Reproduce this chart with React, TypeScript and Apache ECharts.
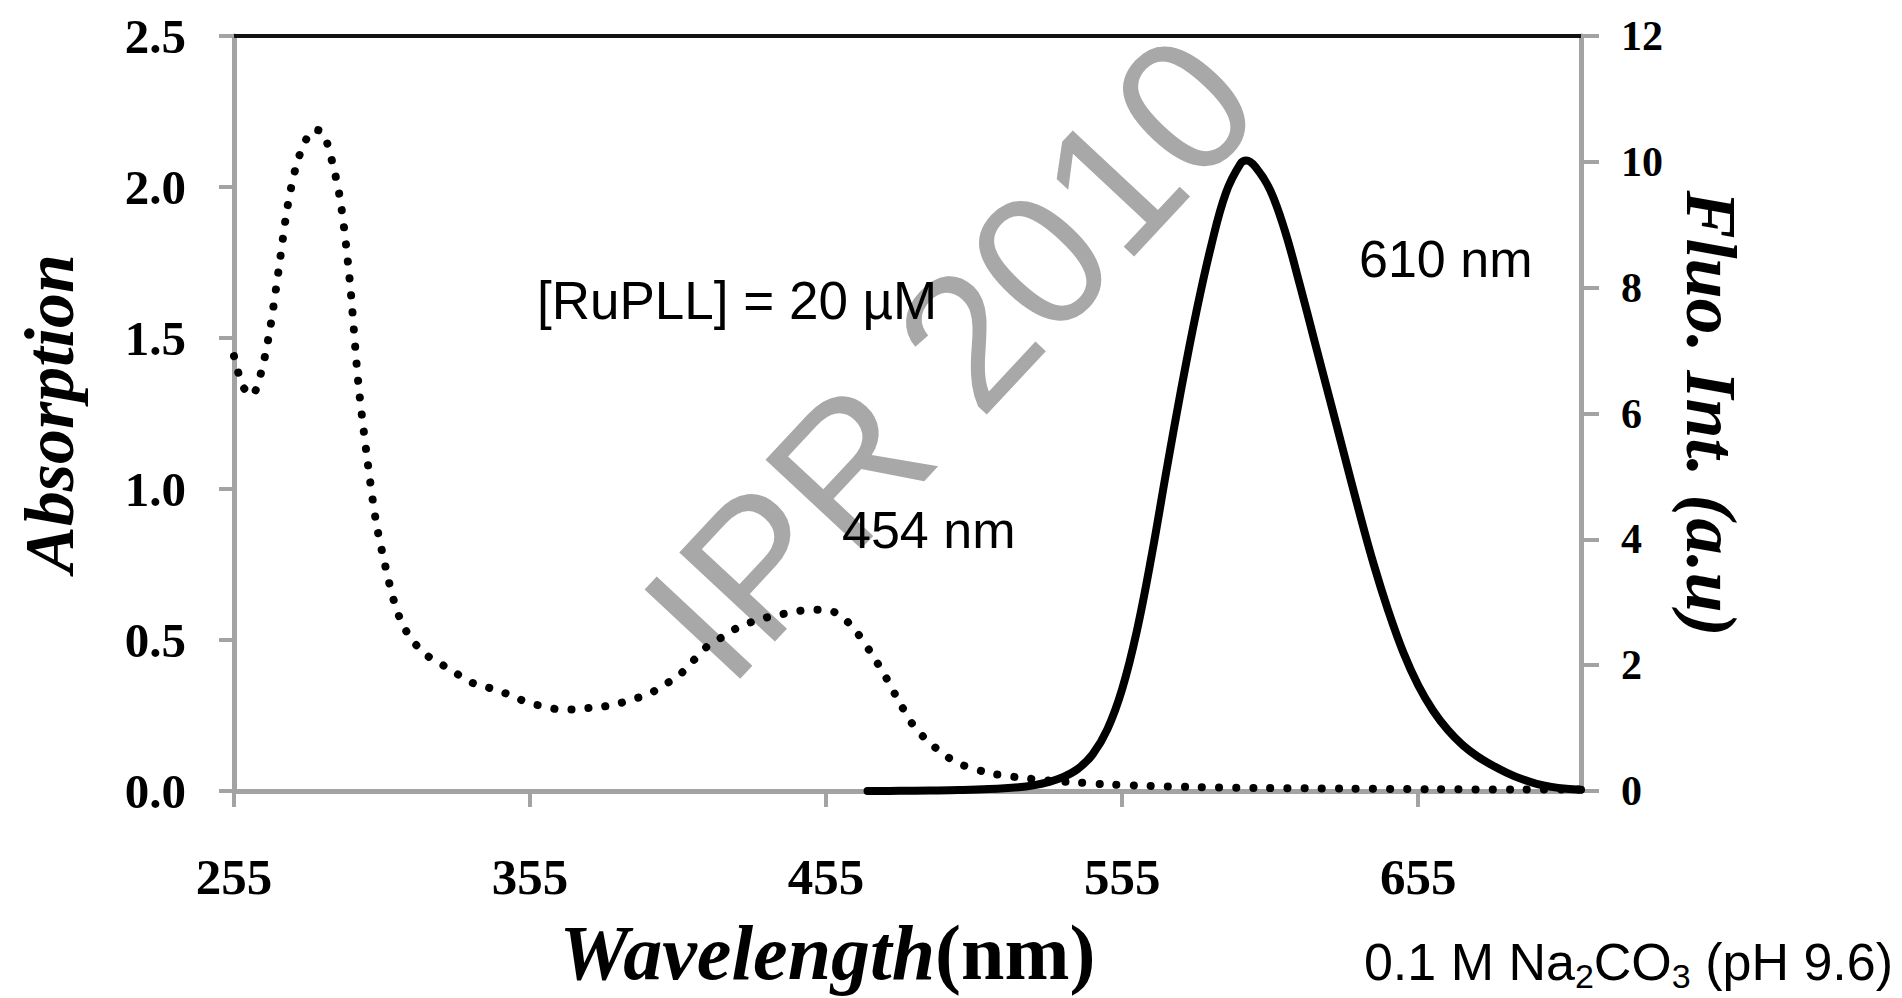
import React, { useEffect, useRef } from 'react';
import * as echarts from 'echarts';

// Absorption spectrum (left axis, dotted)
const absWavelength = [
  255, 258, 261, 264, 267, 270, 273, 276, 279, 282,
  285, 288, 291, 294, 297, 300, 303, 306, 309, 312,
  316, 320, 325, 330, 335, 340, 345, 350, 355, 360,
  365, 370, 375, 380, 385, 390, 395, 400, 405, 410,
  415, 420, 425, 430, 435, 440, 445, 450, 455, 460,
  465, 470, 475, 480, 485, 490, 495, 500, 510, 520,
  530, 540, 550, 560, 580, 600, 630, 660, 690, 710,
];
const absValues = [
  1.44, 1.34, 1.31, 1.38, 1.52, 1.72, 1.93, 2.07, 2.15, 2.19,
  2.18, 2.09, 1.95, 1.7, 1.35, 1.1, 0.89, 0.75, 0.63, 0.55,
  0.49, 0.45, 0.42, 0.39, 0.36, 0.345, 0.33, 0.31, 0.29, 0.28,
  0.27, 0.27, 0.275, 0.28, 0.29, 0.305, 0.32, 0.35, 0.38, 0.43,
  0.48, 0.51, 0.54, 0.56, 0.575, 0.585, 0.595, 0.6, 0.6, 0.58,
  0.53, 0.46, 0.38, 0.29, 0.21, 0.16, 0.12, 0.09, 0.06, 0.045,
  0.035, 0.028, 0.022, 0.018, 0.013, 0.01, 0.008, 0.006, 0.005, 0.005,
];

// Fluorescence spectrum (right axis, solid)
const fluoWavelength = [
  469, 480, 490, 500, 510, 520, 525, 530, 535, 540,
  545, 550, 555, 560, 565, 570, 575, 580, 585, 590,
  595, 597, 600, 605, 610, 615, 620, 625, 630, 635,
  640, 645, 650, 655, 660, 665, 670, 675, 680, 685,
  690, 695, 700, 705, 710,
];
const fluoValues = [
  0, 0.003, 0.008, 0.015, 0.03, 0.06, 0.09, 0.14, 0.22, 0.35,
  0.58, 0.98, 1.62, 2.55, 3.75, 5.1, 6.4, 7.6, 8.65, 9.5,
  9.97, 10.02, 9.92, 9.55, 8.9, 8.05, 7.15, 6.25, 5.35, 4.45,
  3.6, 2.85, 2.2, 1.68, 1.28, 0.97, 0.73, 0.55, 0.41, 0.29,
  0.19, 0.115, 0.065, 0.035, 0.02,
];

const xTickValues = [255, 355, 455, 555, 655];
const xMin = 255;
const xMax = 710;
const absMax = 2.5;
const absStep = 0.5;
const fluoMax = 12;
const fluoStep = 2;

const SERIF = '"Liberation Serif", "Times New Roman", serif';
const SANS = '"Liberation Sans", Arial, sans-serif';
const AXIS_GRAY = '#a3a3a3';

export default function App() {
  const ref = useRef<HTMLDivElement>(null);

  useEffect(() => {
    document.body.style.margin = '0';
    const chart = echarts.init(ref.current as HTMLDivElement, null, { renderer: 'svg' });

    const absData = absWavelength.map((w, i) => [w, absValues[i]]);
    const fluoData = fluoWavelength.map((w, i) => [w, fluoValues[i]]);

    const option: any = {
      animation: false,
      backgroundColor: '#ffffff',
      grid: {
        left: 234,
        right: 321,
        top: 36,
        bottom: 207,
        containLabel: false,
        outerBoundsMode: 'none',
      },
      xAxis: [
        {
          type: 'value',
          min: xMin,
          max: xMax,
          position: 'bottom',
          name: '{i|Wavelength}{n|(nm)}',
          nameLocation: 'middle',
          nameGap: 122,
          nameTextStyle: {
            padding: [0, 160, 0, 0],
            rich: {
              i: { fontFamily: SERIF, fontStyle: 'italic', fontWeight: 'bold', fontSize: 78, color: '#000' },
              n: { fontFamily: SERIF, fontWeight: 'bold', fontSize: 78, color: '#000' },
            },
          },
          axisLine: { show: true, onZero: false, lineStyle: { color: AXIS_GRAY, width: 5 } },
          axisTick: {
            show: true,
            inside: false,
            length: 16,
            customValues: xTickValues,
            lineStyle: { color: AXIS_GRAY, width: 4 },
          },
          axisLabel: {
            show: true,
            customValues: xTickValues,
            margin: 60,
            fontFamily: SERIF,
            fontWeight: 'bold',
            fontSize: 51,
            color: '#000',
          },
          splitLine: { show: false },
        },
        {
          type: 'value',
          min: xMin,
          max: xMax,
          position: 'top',
          axisLine: { show: true, onZero: false, lineStyle: { color: '#111', width: 4 } },
          axisTick: { show: false },
          axisLabel: { show: false },
          splitLine: { show: false },
        },
      ],
      yAxis: [
        {
          type: 'value',
          min: 0,
          max: absMax,
          interval: absStep,
          position: 'left',
          name: 'Absorption',
          nameLocation: 'middle',
          nameGap: 150,
          nameRotate: 90,
          nameTextStyle: {
            fontFamily: SERIF,
            fontStyle: 'italic',
            fontWeight: 'bold',
            fontSize: 70,
            color: '#000',
          },
          axisLine: { show: true, onZero: false, lineStyle: { color: AXIS_GRAY, width: 5 } },
          axisTick: { show: true, inside: false, length: 15, lineStyle: { color: AXIS_GRAY, width: 4 } },
          axisLabel: {
            margin: 48,
            fontFamily: SERIF,
            fontWeight: 'bold',
            fontSize: 49,
            color: '#000',
            formatter: (v: number) => v.toFixed(1),
          },
          splitLine: { show: false },
        },
        {
          type: 'value',
          min: 0,
          max: fluoMax,
          interval: fluoStep,
          position: 'right',
          name: 'Fluo. Int. (a.u)',
          nameLocation: 'middle',
          nameGap: 94,
          nameRotate: -90,
          nameTextStyle: {
            fontFamily: SERIF,
            fontStyle: 'italic',
            fontWeight: 'bold',
            fontSize: 72,
            color: '#000',
          },
          axisLine: { show: true, onZero: false, lineStyle: { color: AXIS_GRAY, width: 5 } },
          axisTick: { show: true, inside: false, length: 18, lineStyle: { color: AXIS_GRAY, width: 4 } },
          axisLabel: {
            margin: 40,
            fontFamily: SERIF,
            fontWeight: 'bold',
            fontSize: 42,
            color: '#000',
          },
          splitLine: { show: false },
        },
      ],
      series: [
        {
          name: 'Absorption',
          type: 'line',
          xAxisIndex: 0,
          yAxisIndex: 0,
          data: absData,
          smooth: 0.3,
          showSymbol: false,
          symbol: 'none',
          clip: false,
          lineStyle: { color: '#000', width: 8, type: [0.1, 17], cap: 'round' },
          z: 3,
        },
        {
          name: 'Fluorescence',
          type: 'line',
          xAxisIndex: 0,
          yAxisIndex: 1,
          data: fluoData,
          smooth: 0.4,
          showSymbol: false,
          symbol: 'none',
          clip: false,
          lineStyle: { color: '#000', width: 8, cap: 'round', join: 'round' },
          z: 4,
        },
      ],
      graphic: [
        {
          type: 'text',
          x: 950,
          y: 357,
          rotation: (47 * Math.PI) / 180,
          z: 1,
          silent: true,
          style: {
            text: 'IPR 2010',
            fontFamily: SANS,
            fontSize: 190,
            fill: '#a8a8a8',
            textAlign: 'center',
            textVerticalAlign: 'middle',
            align: 'center',
            verticalAlign: 'middle',
          },
        },
        {
          type: 'text',
          x: 537,
          y: 300,
          z: 10,
          style: {
            text: '[RuPLL] = 20 µM',
            fontFamily: SANS,
            fontSize: 53,
            fill: '#000',
            textAlign: 'left',
            textVerticalAlign: 'middle',
            align: 'left',
            verticalAlign: 'middle',
          },
        },
        {
          type: 'text',
          x: 842,
          y: 530,
          z: 10,
          style: {
            text: '454 nm',
            fontFamily: SANS,
            fontSize: 52,
            fill: '#000',
            textAlign: 'left',
            textVerticalAlign: 'middle',
            align: 'left',
            verticalAlign: 'middle',
          },
        },
        {
          type: 'text',
          x: 1359,
          y: 259,
          z: 10,
          style: {
            text: '610 nm',
            fontFamily: SANS,
            fontSize: 52,
            fill: '#000',
            textAlign: 'left',
            textVerticalAlign: 'middle',
            align: 'left',
            verticalAlign: 'middle',
          },
        },
        {
          type: 'text',
          x: 1893,
          y: 962,
          z: 10,
          style: {
            text: '{n|0.1 M Na}{s|2}{n|CO}{s|3}{n| (pH 9.6)}',
            textAlign: 'right',
            textVerticalAlign: 'middle',
            align: 'right',
            verticalAlign: 'middle',
            rich: {
              n: { fontFamily: SANS, fontSize: 52, lineHeight: 62, fill: '#000', color: '#000' },
              s: { fontFamily: SANS, fontSize: 34, lineHeight: 18, verticalAlign: 'bottom', fill: '#000', color: '#000' },
            },
          },
        },
      ],
    };

    chart.setOption(option);
    return () => {
      chart.dispose();
    };
  }, []);

  return <div ref={ref} style={{ width: 1902, height: 998 }} />;
}
